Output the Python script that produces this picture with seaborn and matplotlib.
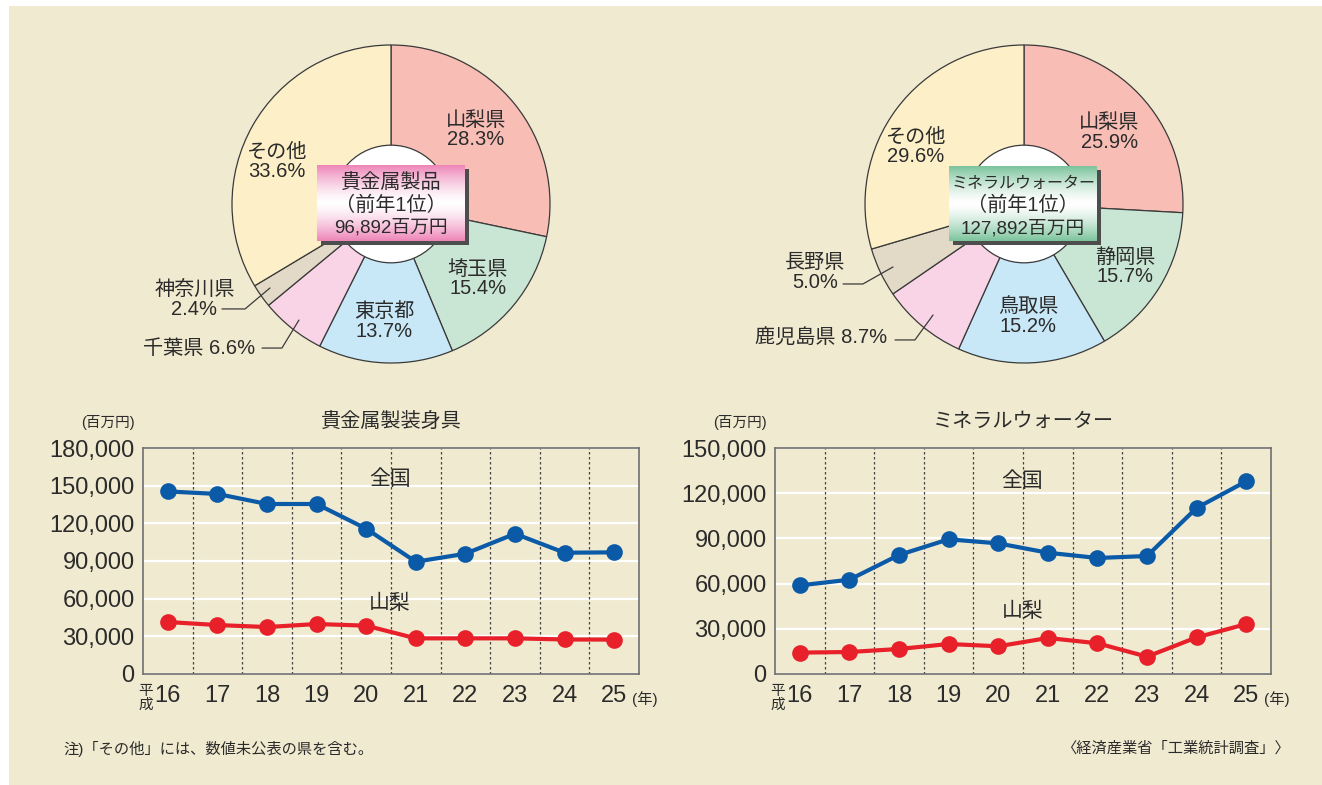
import numpy as np
import pandas as pd
import matplotlib
matplotlib.use("Agg")
import matplotlib.pyplot as plt
import seaborn as sns
from matplotlib.patches import Rectangle, Circle
from matplotlib.colors import LinearSegmentedColormap

# ---- data ----
years = [16, 17, 18, 19, 20, 21, 22, 23, 24, 25]

jewelry_national = [145400, 143400, 135400, 135400, 115700, 89400, 95800, 111700, 96600, 96892]
jewelry_yamanashi = [41400, 39000, 37400, 39800, 38500, 28400, 28400, 28400, 27500, 27400]
water_national = [58800, 62600, 79000, 89400, 86700, 80500, 77000, 78300, 110200, 127892]
water_yamanashi = [14200, 14600, 16600, 19900, 18400, 23900, 20400, 11500, 24300, 33100]

jewelry_pref = ["山梨県", "埼玉県", "東京都", "千葉県", "神奈川県", "その他"]
jewelry_share = [28.3, 15.4, 13.7, 6.6, 2.4, 33.6]
water_pref = ["山梨県", "静岡県", "鳥取県", "鹿児島県", "長野県", "その他"]
water_share = [25.9, 15.7, 15.2, 8.7, 5.0, 29.6]

pie_colors = ["#f8bdb5", "#c9e5d3", "#c8e8f8", "#f9d3e6", "#e2dac6", "#fdf0c8"]

BG = "#f0ead0"
TXT = "#2b2b2b"
BLUE = "#0a5aa8"
RED = "#e8202a"

sns.set_style("white")
plt.rcParams["font.family"] = ["Liberation Sans", "Noto Sans CJK JP"]
plt.rcParams["text.color"] = TXT

W, H = 1322, 785
fig = plt.figure(figsize=(W / 100, H / 100), dpi=100, facecolor="white")


def fx(px):
    return px / W


def fy(py):
    return 1 - py / H


fig.patches.append(Rectangle((fx(9), 0), 1 - fx(9), fy(6), transform=fig.transFigure,
                             facecolor=BG, edgecolor="none", zorder=-5))


def draw_pie(cx, cy, r, shares, names, label_pos, leaders):
    ax = fig.add_axes([fx(cx - r), fy(cy + r), 2 * r / W, 2 * r / H])
    ax.set_facecolor("none")
    ax.pie(shares, colors=pie_colors, startangle=90, counterclock=False, radius=1,
           wedgeprops=dict(edgecolor="#3a3a3a", linewidth=0.9))
    ax.add_patch(Circle((0, 0), 0.37, facecolor="white", edgecolor="#3a3a3a", lw=0.9, zorder=3))
    for name, share, (x, y, ha, oneline) in zip(names, shares, label_pos):
        txt = f"{name} {share:.1f}%" if oneline else f"{name}\n{share:.1f}%"
        ax.text(x, y, txt, ha=ha, va="center", fontsize=14.5, linespacing=1.05,
                multialignment="center", color=TXT)
    for pts in leaders:
        xs, ys = zip(*pts)
        ax.plot(xs, ys, color="#3a3a3a", lw=0.9, clip_on=False)
    ax.set_xlim(-1, 1)
    ax.set_ylim(-1, 1)
    ax.axis("off")
    return ax


draw_pie(391, 204, 159, jewelry_share, jewelry_pref,
         [(0.534, 0.465, "center", False), (0.547, -0.472, "center", False),
          (-0.044, -0.74, "center", False), (-0.855, -0.906, "right", True),
          (-1.236, -0.604, "center", False), (-0.719, 0.266, "center", False)],
         [[(-1.063, -0.660), (-0.918, -0.660), (-0.761, -0.528)],
          [(-0.811, -0.906), (-0.686, -0.906), (-0.579, -0.730)]])

draw_pie(1024, 204, 159, water_share, water_pref,
         [(0.535, 0.450, "center", False), (0.635, -0.396, "center", False),
          (0.025, -0.709, "center", False), (-0.862, -0.843, "right", True),
          (-1.314, -0.431, "center", False), (-0.681, 0.358, "center", False)],
         [[(-1.138, -0.503), (-1.013, -0.503), (-0.824, -0.396)],
          [(-0.811, -0.855), (-0.686, -0.855), (-0.572, -0.698)]])


def center_box(x0, y0, x1, y1, color, lines, sizes):
    fig.patches.append(Rectangle((fx(x0 + 4), fy(y1 + 4)), (x1 - x0) / W, (y1 - y0) / H,
                                 transform=fig.transFigure, facecolor="#4d4d4d",
                                 edgecolor="none", zorder=4))
    bax = fig.add_axes([fx(x0), fy(y1), (x1 - x0) / W, (y1 - y0) / H])
    bax.set_zorder(6)
    cmap = LinearSegmentedColormap.from_list("g", ["white", color])
    grad = np.abs(np.linspace(-1, 1, 120)) ** 1.4
    grad = grad[:, None] * np.ones((1, 10))
    bax.imshow(grad, cmap=cmap, vmin=0, vmax=1, aspect="auto", extent=(0, 1, 0, 1))
    bax.axis("off")
    ys = [0.77, 0.47, 0.17]
    for t, s, yy in zip(lines, sizes, ys):
        bax.text(0.5, yy, t, ha="center", va="center", fontsize=s, color=TXT)


center_box(317, 165, 465, 241, "#ee86b8", ["貴金属製品", "（前年1位）", "96,892百万円"], [14.5, 14.5, 13.5])
center_box(949, 166, 1097, 241, "#7cc49c", ["ミネラルウォーター", "（前年1位）", "127,892百万円"], [11.5, 14.5, 13.5])


def draw_line(left, title, national, yamanashi, ymax, label_pos):
    ax = fig.add_axes([fx(left), fy(674), 496 / W, 226 / H])
    ax.set_facecolor(BG)
    df = pd.DataFrame({
        "year": years * 2,
        "value": national + yamanashi,
        "series": ["全国"] * len(years) + ["山梨"] * len(years),
    })
    for xv in np.arange(16.5, 25, 1):
        ax.axvline(xv, color="#444444", ls=(0, (2, 2)), lw=0.9, zorder=1)
    sns.lineplot(data=df, x="year", y="value", hue="series",
                 palette={"全国": BLUE, "山梨": RED}, marker="o", markersize=12,
                 markeredgewidth=0, linewidth=3, legend=False, ax=ax, zorder=3)
    ax.set_xlim(15.5, 25.5)
    ax.set_ylim(0, ymax)
    yt = np.arange(0, ymax + 1, 30000)
    ax.set_yticks(yt)
    ax.set_yticklabels([f"{v:,}" for v in yt])
    ax.set_xticks(years)
    ax.set_xticklabels([str(y) for y in years])
    ax.yaxis.grid(True, color="white", lw=1.6)
    ax.set_axisbelow(True)
    ax.tick_params(axis="both", length=0, labelsize=17, colors=TXT)
    ax.tick_params(axis="y", pad=6)
    ax.tick_params(axis="x", pad=8)
    ax.set_xlabel("")
    ax.set_ylabel("")
    for sp in ax.spines.values():
        sp.set_color("#707070")
        sp.set_linewidth(1.2)
    (nx, ny), (yx, yy) = label_pos
    ax.text(nx, ny, "全国", ha="center", va="center", fontsize=15, color=TXT)
    ax.text(yx, yy, "山梨", ha="center", va="center", fontsize=15, color=TXT)
    fig.text(fx(left + 248), fy(421), title, ha="center", va="center", fontsize=14.5, color=TXT)
    fig.text(fx(left - 35), fy(423), "(百万円)", ha="center", va="center", fontsize=10.5, color=TXT)
    fig.text(fx(left + 502), fy(699), "(年)", ha="center", va="center", fontsize=11, color=TXT)
    fig.text(fx(left + 3), fy(698), "平\n成", ha="center", va="center", fontsize=10.5,
             linespacing=1.0, color=TXT)
    return ax


draw_line(143, "貴金属製装身具", jewelry_national, jewelry_yamanashi, 180000,
          [(20.48, 155000), (20.48, 56000)])
draw_line(775, "ミネラルウォーター", water_national, water_yamanashi, 150000,
          [(20.49, 128300), (20.49, 41600)])

fig.text(fx(63), fy(749), "注)「その他」には、数値未公表の県を含む。", ha="left", va="center",
         fontsize=11, color=TXT)
fig.text(fx(1290), fy(749), "〈経済産業省「工業統計調査」〉", ha="right", va="center",
         fontsize=11, color=TXT)

fig.savefig("out.png", dpi=100, facecolor="white")
